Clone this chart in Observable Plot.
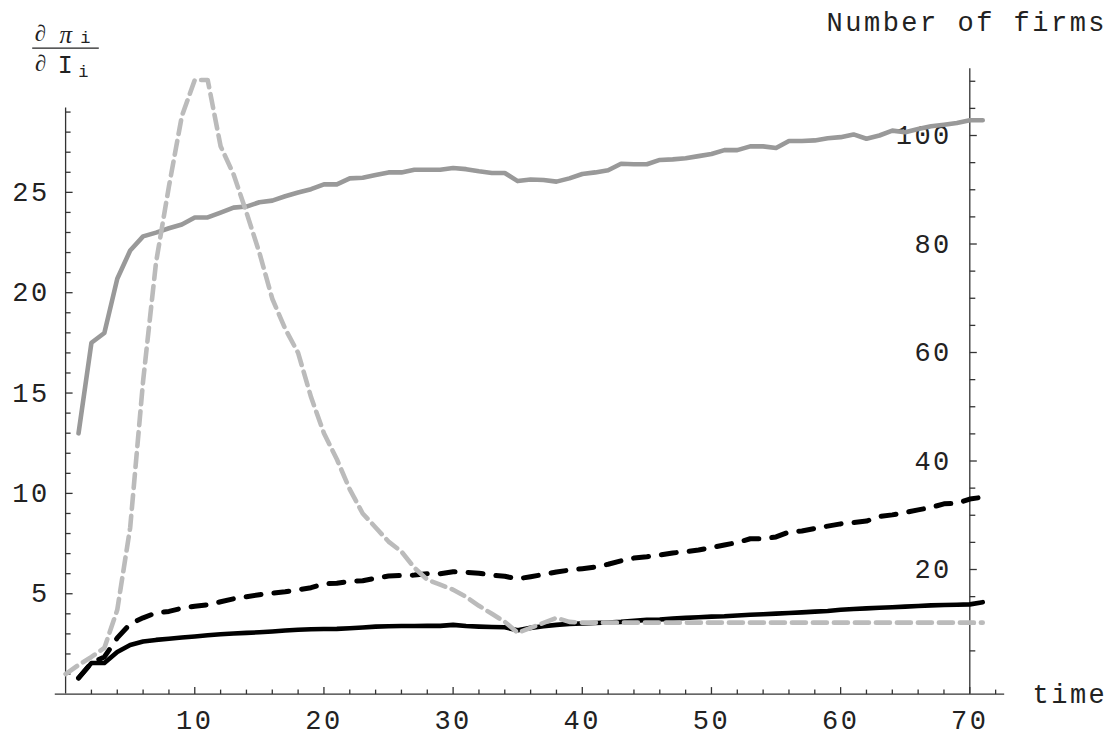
<!DOCTYPE html>
<html>
<head>
<meta charset="utf-8">
<script src="https://cdn.jsdelivr.net/npm/d3@7"></script>
<script src="https://cdn.jsdelivr.net/npm/@observablehq/plot@0.6"></script>
<style>
  html, body { margin: 0; padding: 0; background: #fff; }
  #chart svg text { letter-spacing: 2.5px; }
</style>
</head>
<body>
<div id="chart"></div>
<script>
// ---- data ----
const time = [1,2,3,4,5,6,7,8,9,10,11,12,13,14,15,16,17,18,19,20,21,22,23,24,25,26,27,28,29,30,31,32,33,34,35,36,37,38,39,40,41,42,43,44,45,46,47,48,49,50,51,52,53,54,55,56,57,58,59,60,61,62,63,64,65,66,67,68,69,70,71];
const time0 = [0, ...time];

// marginal profit series (left axis)
const blackSolid = [0.8,1.55,1.55,2.1,2.45,2.62,2.7,2.76,2.82,2.87,
  2.93,2.98,3.02,3.05,3.08,3.12,3.17,3.21,3.23,3.24,
  3.25,3.28,3.32,3.36,3.38,3.39,3.39,3.4,3.4,3.45,
  3.39,3.36,3.34,3.33,3.18,3.3,3.38,3.45,3.5,3.52,
  3.54,3.57,3.6,3.65,3.7,3.72,3.76,3.8,3.83,3.86,
  3.88,3.92,3.95,3.98,4.01,4.04,4.07,4.11,4.14,4.2,
  4.24,4.27,4.3,4.33,4.36,4.39,4.42,4.44,4.45,4.47,4.58];

const blackDashed = [0.8,1.55,1.85,2.8,3.5,3.8,4.05,4.12,4.28,4.38,
  4.45,4.6,4.75,4.85,4.95,5.03,5.1,5.2,5.3,5.5,
  5.52,5.62,5.65,5.77,5.88,5.91,5.93,6.0,6.0,6.1,
  6.07,6.02,5.93,5.87,5.74,5.85,5.96,6.08,6.18,6.25,
  6.33,6.47,6.64,6.78,6.84,6.93,7.03,7.1,7.18,7.3,
  7.43,7.55,7.74,7.74,7.83,8.08,8.13,8.25,8.37,8.48,
  8.55,8.62,8.85,8.93,9.05,9.18,9.3,9.48,9.5,9.72,9.81];

// starts at time 0
const grayDashed = [1.0,1.45,1.85,2.3,4.2,8.3,15.6,21.5,25.3,28.8,
  30.6,30.6,27.3,25.9,24.0,22.0,19.7,18.2,17.0,14.8,
  13.0,11.7,10.2,9.0,8.3,7.6,7.1,6.3,5.7,5.45,
  5.2,4.85,4.4,4.0,3.6,3.05,3.3,3.55,3.8,3.6,
  3.56,3.56,3.56,3.56,3.56,3.56,3.56,3.56,3.56,3.56,
  3.56,3.56,3.56,3.56,3.56,3.56,3.56,3.56,3.56,3.56,
  3.56,3.56,3.56,3.56,3.56,3.56,3.56,3.56,3.56,3.56,3.56,3.56];

// number of firms (right axis)
const firms = [45.1,61.8,63.6,73.6,78.8,81.4,82.1,82.9,83.6,84.9,
  84.9,85.8,86.7,86.9,87.7,88.0,88.8,89.5,90.1,91.0,
  91.0,92.1,92.2,92.7,93.2,93.2,93.7,93.7,93.7,94.0,
  93.8,93.4,93.1,93.1,91.6,91.9,91.8,91.5,92.1,92.9,
  93.2,93.6,94.8,94.7,94.7,95.5,95.6,95.8,96.2,96.6,
  97.3,97.3,98.0,98.0,97.7,99.0,99.0,99.1,99.5,99.7,
  100.2,99.4,100.0,100.9,100.6,101.2,101.7,102.0,102.3,102.8,102.8];

// ticks
const xMajor = [10,20,30,40,50,60,70];
const xMinor = [2,4,6,8,12,14,16,18,22,24,26,28,32,34,36,38,42,44,46,48,52,54,56,58,62,64,66,68,72];
const yMajor = [5,10,15,20,25];
const yMinor = [1,2,3,4,6,7,8,9,11,12,13,14,16,17,18,19,21,22,23,24,26,27,28,29];
const fMajor = [20,40,60,80,100];
const fMinor = [5,10,15,25,30,35,45,50,55,65,70,75,85,90,95,105,110];

// right axis (number of firms) expressed in left-axis units
const fToL = v => 0.802 + 0.2703 * v;

const rows = (xs, ys) => xs.map((t, i) => ({t, v: ys[i]}));
const solidRows = rows(time, blackSolid);
const dashedRows = rows(time, blackDashed);
const grayDashedRows = rows(time0, grayDashed);
const firmRows = rows(time, firms);

// tick symbols (length = r)
const len = size => Math.sqrt(size / Math.PI);
const tickUp = {draw(ctx, size) { const l = len(size); ctx.moveTo(0, 0); ctx.lineTo(0, -l); }};
const tickRight = {draw(ctx, size) { const l = len(size); ctx.moveTo(0, 0); ctx.lineTo(l, 0); }};
const hBar = {draw(ctx, size) { const l = len(size); ctx.moveTo(-l, 0); ctx.lineTo(l, 0); }};

const AX = "#333";
const TXT = "#222";
const MONO = "Liberation Mono, DejaVu Sans Mono, monospace";
const SERIF = "Liberation Serif, DejaVu Serif, serif";
const FS = 27;

const ann = (txt, anchor, dx, dy, opts = {}) =>
  Plot.text([txt], {text: d => d, frameAnchor: anchor, dx, dy, fill: TXT,
    fontFamily: MONO, fontSize: FS, lineAnchor: "middle", ...opts});

const chart = Plot.plot({
  width: 1116,
  height: 738,
  marginLeft: 65.1,
  marginRight: 146.7,
  marginTop: 91.5,
  marginBottom: 44.4,
  x: {domain: [0, 70], axis: null},
  y: {domain: [0, 30], axis: null},
  style: {background: "white", overflow: "visible"},
  marks: [
    // axes lines
    Plot.ruleY([0], {x1: -0.8, x2: 72.7, stroke: AX, strokeWidth: 1.3}),
    Plot.ruleX([0], {y1: 0, y2: 29.2, stroke: AX, strokeWidth: 1.3}),
    Plot.ruleX([70], {y1: 0, y2: fToL(112.3), stroke: AX, strokeWidth: 1.3}),
    // x ticks
    Plot.dot(xMajor, {x: d => d, y: 0, r: 7, symbol: tickUp, stroke: AX, strokeWidth: 1.3, fill: "none"}),
    Plot.dot(xMinor, {x: d => d, y: 0, r: 4.5, symbol: tickUp, stroke: AX, strokeWidth: 1.3, fill: "none"}),
    Plot.text(xMajor, {x: d => d, y: 0, dy: 26, text: d => String(d), fill: TXT, fontFamily: MONO, fontSize: FS, lineAnchor: "middle"}),
    // left y ticks
    Plot.dot(yMajor, {x: 0, y: d => d, r: 7, symbol: tickRight, stroke: AX, strokeWidth: 1.3, fill: "none"}),
    Plot.dot(yMinor, {x: 0, y: d => d, r: 5, symbol: tickRight, stroke: AX, strokeWidth: 1.3, fill: "none"}),
    Plot.text(yMajor, {x: 0, y: d => d, dx: -16, text: d => String(d), textAnchor: "end", fill: TXT, fontFamily: MONO, fontSize: FS, lineAnchor: "middle"}),
    // right y ticks (number of firms)
    Plot.dot(fMajor, {x: 70, y: d => fToL(d), r: 7, symbol: tickRight, stroke: AX, strokeWidth: 1.3, fill: "none"}),
    Plot.dot(fMinor, {x: 70, y: d => fToL(d), r: 5.5, symbol: tickRight, stroke: AX, strokeWidth: 1.3, fill: "none"}),
    Plot.text(fMajor, {x: 70, y: d => fToL(d), dx: -18, text: d => String(d), textAnchor: "end", fill: TXT, fontFamily: MONO, fontSize: FS, lineAnchor: "middle"}),
    // series
    Plot.line(solidRows, {x: "t", y: "v", stroke: "#000", strokeWidth: 4.6, strokeLinejoin: "round"}),
    Plot.line(dashedRows, {x: "t", y: "v", stroke: "#000", strokeWidth: 5, strokeDasharray: "15,13", strokeLinejoin: "round"}),
    Plot.line(firmRows, {x: "t", y: d => fToL(d.v), stroke: "#999", strokeWidth: 4.6, strokeLinejoin: "round"}),
    Plot.line(grayDashedRows, {x: "t", y: "v", stroke: "#bbb", strokeWidth: 4.6, strokeDasharray: "14,7", strokeLinejoin: "round"}),
    // axis titles
    ann("Number of firms", "top-right", -3, -70, {textAnchor: "middle"}),
    ann("time", "bottom-right", 62.7, 0, {textAnchor: "start"}),
    // fraction label  ∂π_i / ∂I_i
    ann("\u2202", "top-left", -24, -58.5, {fontFamily: SERIF, fontSize: 23, textAnchor: "middle"}),
    ann("\u03C0", "top-left", 1.4, -57.5, {fontFamily: SERIF, fontStyle: "italic", fontSize: 25, textAnchor: "middle"}),
    ann("i", "top-left", 21, -54.5, {fontSize: 17, textAnchor: "middle"}),
    Plot.dot([0], {frameAnchor: "top-left", dx: -0.1, dy: -43.8, r: 33.3, symbol: hBar, stroke: TXT, strokeWidth: 1.3, fill: "none"}),
    ann("\u2202", "top-left", -23.6, -28, {fontFamily: SERIF, fontSize: 23, textAnchor: "middle"}),
    ann("I", "top-left", 1, -27, {fontSize: 25, textAnchor: "middle"}),
    ann("i", "top-left", 19, -20, {fontSize: 17, textAnchor: "middle"})
  ]
});

document.getElementById("chart").appendChild(chart);
</script>
</body>
</html>
